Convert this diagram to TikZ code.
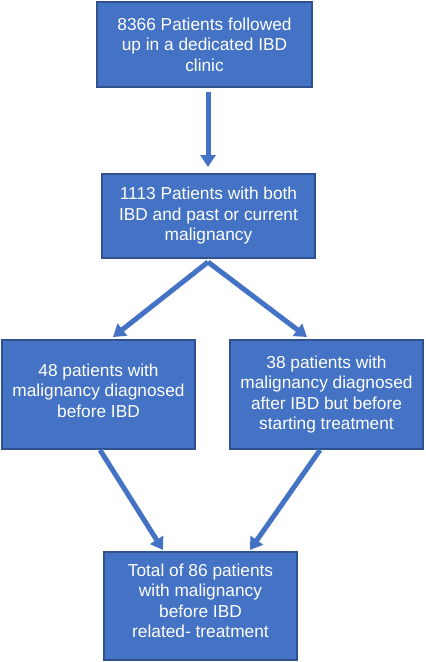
\documentclass[tikz,border=0pt]{standalone}
\usepackage{fontspec}
\setmainfont{Liberation Sans}
\usetikzlibrary{arrows.meta}
\definecolor{boxfill}{HTML}{4472C4}
\definecolor{boxline}{HTML}{2F528F}
\definecolor{arrowcol}{HTML}{4472C4}
\begin{document}
\begin{tikzpicture}[x=1pt,y=-1pt,
  box/.style={draw=boxline,line width=1.2pt,fill=boxfill,text=white,align=center,
    inner sep=0pt,font=\fontsize{17.3}{20.5}\selectfont},
  flow/.style={draw=arrowcol,line width=5pt,-{Triangle[width=15pt,length=12pt]}}]
\useasboundingbox (0,0) rectangle (426,662);
\node[box,minimum width=215pt,minimum height=85pt] (b1) at (204.5,44.5)
  {8366 Patients followed\\up in a dedicated IBD\\clinic};
\node[box,minimum width=213pt,minimum height=84pt] (b2) at (208.5,216)
  {1113 Patients with both\\IBD and past or current\\malignancy};
\node[box,minimum width=193pt,minimum height=109pt,text depth=8pt] (b3) at (98.5,394.5)
  {48 patients with\\malignancy diagnosed\\before IBD};
\node[box,minimum width=193pt,minimum height=109pt] (b4) at (326.5,394.5)
  {38 patients with\\malignancy diagnosed\\after IBD but before\\starting treatment};
\node[box,minimum width=193pt,minimum height=108pt,text depth=11pt] (b5) at (200.5,606)
  {Total of 86 patients\\with malignancy\\before IBD\\related- treatment};
\coordinate (s1) at (208,92);
\coordinate (t1) at (208,167);
\coordinate (s2) at (208,262);
\coordinate (t3) at (113,337);
\coordinate (t4) at (307,337);
\coordinate (s3) at (100,450);
\coordinate (s4) at (320,450);
\coordinate (t5l) at (163,550);
\coordinate (t5r) at (250,550);
\draw[flow] (s1) -- (t1);
\draw[flow] (s2) -- (t3);
\draw[flow] (s2) -- (t4);
\draw[flow] (s3) -- (t5l);
\draw[flow] (s4) -- (t5r);
\end{tikzpicture}
\end{document}
